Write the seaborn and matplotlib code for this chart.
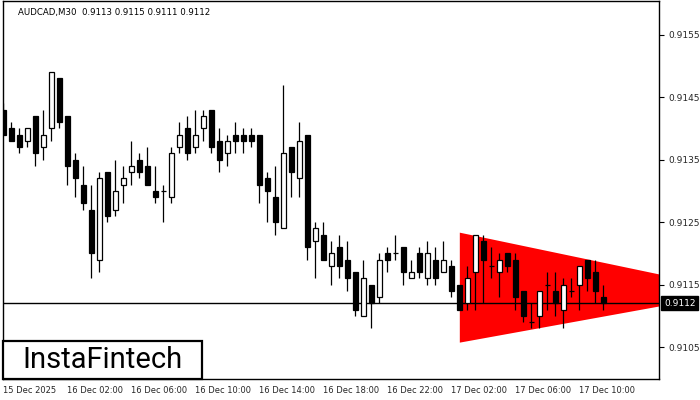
import pandas as pd
import matplotlib
matplotlib.use("Agg")
import matplotlib.pyplot as plt
import matplotlib.transforms as mtransforms
from matplotlib.patches import Rectangle
import seaborn as sns

# AUDCAD M30 candles
opens = [0.9143, 0.9140, 0.9139, 0.9138, 0.9142, 0.9137, 0.9140, 0.9148, 0.9142, 0.9135,
         0.9131, 0.9127, 0.9119, 0.9133, 0.9127, 0.9131, 0.9133, 0.9135, 0.9134, 0.9130,
         0.9130, 0.9129, 0.9137, 0.9140, 0.9137, 0.9140, 0.9143, 0.9138, 0.9136, 0.9139,
         0.9139, 0.9139, 0.9139, 0.9132, 0.9129, 0.9124, 0.9137, 0.9132, 0.9139, 0.9122,
         0.9123, 0.9118, 0.9121, 0.9119, 0.9117, 0.9110, 0.9115, 0.9113, 0.9120, 0.9120,
         0.9121, 0.9116, 0.9120, 0.9116, 0.9119, 0.9117, 0.9118, 0.9115, 0.9112, 0.9117,
         0.9122, 0.9118, 0.9117, 0.9120, 0.9119, 0.9114, 0.9109, 0.9110, 0.9115, 0.9114,
         0.9111, 0.9114, 0.9115, 0.9119, 0.9117, 0.9113]
highs = [0.9144, 0.9141, 0.9140, 0.9140, 0.9142, 0.9143, 0.9149, 0.9148, 0.9142, 0.9136,
         0.9134, 0.9131, 0.9133, 0.9133, 0.9135, 0.9134, 0.9138, 0.9136, 0.9137, 0.9134,
         0.9131, 0.9137, 0.9141, 0.9142, 0.9143, 0.9143, 0.9143, 0.9140, 0.9139, 0.9141,
         0.9140, 0.9140, 0.9139, 0.9133, 0.9134, 0.9147, 0.9137, 0.9141, 0.9139, 0.9125,
         0.9125, 0.9122, 0.9123, 0.9122, 0.9117, 0.9119, 0.9115, 0.9120, 0.9121, 0.9123,
         0.9121, 0.9119, 0.9121, 0.9122, 0.9121, 0.9122, 0.9119, 0.9115, 0.9118, 0.9123,
         0.9123, 0.9121, 0.9120, 0.9120, 0.9120, 0.9114, 0.9112, 0.9114, 0.9117, 0.9117,
         0.9116, 0.9116, 0.9118, 0.9119, 0.9119, 0.9115]
lows = [0.9139, 0.9138, 0.9136, 0.9137, 0.9134, 0.9135, 0.9138, 0.9140, 0.9131, 0.9129,
        0.9127, 0.9116, 0.9117, 0.9125, 0.9126, 0.9128, 0.9131, 0.9132, 0.9131, 0.9128,
        0.9125, 0.9128, 0.9136, 0.9135, 0.9136, 0.9138, 0.9136, 0.9133, 0.9134, 0.9136,
        0.9136, 0.9137, 0.9128, 0.9125, 0.9123, 0.9124, 0.9129, 0.9129, 0.9119, 0.9116,
        0.9119, 0.9115, 0.9116, 0.9114, 0.9110, 0.9110, 0.9108, 0.9112, 0.9117, 0.9119,
        0.9115, 0.9116, 0.9116, 0.9115, 0.9115, 0.9117, 0.9113, 0.9111, 0.9111, 0.9111,
        0.9112, 0.9116, 0.9113, 0.9117, 0.9111, 0.9109, 0.9108, 0.9108, 0.9111, 0.9110,
        0.9108, 0.9113, 0.9111, 0.9114, 0.9112, 0.9111]
closes = [0.9139, 0.9138, 0.9137, 0.9140, 0.9136, 0.9139, 0.9149, 0.9141, 0.9134, 0.9132,
          0.9128, 0.9120, 0.9132, 0.9126, 0.9130, 0.9132, 0.9134, 0.9133, 0.9131, 0.9129,
          0.9130, 0.9136, 0.9139, 0.9136, 0.9139, 0.9142, 0.9137, 0.9135, 0.9138, 0.9138,
          0.9138, 0.9138, 0.9131, 0.9130, 0.9125, 0.9136, 0.9133, 0.9138, 0.9121, 0.9124,
          0.9119, 0.9120, 0.9118, 0.9116, 0.9111, 0.9116, 0.9112, 0.9119, 0.9119, 0.9120,
          0.9117, 0.9117, 0.9117, 0.9120, 0.9116, 0.9119, 0.9114, 0.9111, 0.9116, 0.9123,
          0.9119, 0.9118, 0.9119, 0.9118, 0.9113, 0.9110, 0.9109, 0.9114, 0.9115, 0.9112,
          0.9115, 0.9114, 0.9118, 0.9116, 0.9114, 0.9112]

# bearish pennant (red triangle), in candle index / price
pennant_x = [57, 82]
pennant_top = [0.91234, 0.91167]
pennant_bot = [0.91058, 0.91116]

time_labels = ["15 Dec 2025", "16 Dec 02:00", "16 Dec 06:00", "16 Dec 10:00", "16 Dec 14:00",
               "16 Dec 18:00", "16 Dec 22:00", "17 Dec 02:00", "17 Dec 06:00", "17 Dec 10:00"]
price_ticks = [0.9105, 0.9115, 0.9125, 0.9135, 0.9145, 0.9155]
last_price = 0.9112

df = pd.DataFrame({"open": opens, "high": highs, "low": lows, "close": closes})
df["idx"] = range(len(df))

sns.set_style("white")
plt.rcParams["font.family"] = ["DejaVu Sans"]

fig = plt.figure(figsize=(7, 4), dpi=100)
ax = fig.add_axes([3 / 700, 21 / 400, 656 / 700, 378 / 400])

# red triangle behind the candles
ax.fill_between(pennant_x, pennant_bot, pennant_top, color="#ff0000", linewidth=0, zorder=1)

# current price line
ax.axhline(last_price, color="black", linewidth=1.0, zorder=2)

# wicks
ax.vlines(df["idx"], df["low"], df["high"], color="black", linewidth=0.9, zorder=3)

# bodies
bull = df["close"] >= df["open"]
body_bottom = df[["open", "close"]].min(axis=1)
body_height = (df["close"] - df["open"]).abs()
doji = body_height < 1e-7
solid = ~doji
ax.bar(df["idx"][solid], body_height[solid], bottom=body_bottom[solid], width=0.62,
       color=["white" if b else "black" for b in bull[solid]],
       edgecolor="black", linewidth=0.9, zorder=4)
ax.hlines(df["close"][doji], df["idx"][doji] - 0.31, df["idx"][doji] + 0.31,
          color="black", linewidth=0.9, zorder=4)

ax.set_xlim(-0.04, 81.96)
ax.set_ylim(0.90999, 0.91604)

# axes look like a trading terminal
for s in ax.spines.values():
    s.set_color("black")
    s.set_linewidth(1.0)
ax.yaxis.tick_right()
ax.set_yticks(price_ticks)
ax.set_yticklabels([f"{p:.4f}" for p in price_ticks])
ax.set_xticks(list(range(0, 80, 8)))
ax.set_xticklabels(time_labels, ha="left")
ax.tick_params(axis="both", direction="out", length=3.5, width=0.8, color="black",
               labelsize=6.3, pad=2)
ax.tick_params(axis="y", labelsize=6.5, pad=3)
ax.tick_params(axis="x", labelsize=6.0, pad=1.5)
for lab in ax.get_xticklabels():
    lab.set_horizontalalignment("left")
ax.set_xlabel("")
ax.set_ylabel("")

# last price tag on the right scale
trans = mtransforms.blended_transform_factory(ax.transAxes, ax.transData)
ax.text(1.0 + 5 / 656, last_price, f"{last_price:.4f}", transform=trans, ha="left",
        va="center", color="white", fontsize=6.5,
        bbox=dict(boxstyle="square,pad=0.28", fc="black", ec="black"), zorder=10)

# header
fig.text(18 / 700, 1 - 12 / 400, "AUDCAD,M30  0.9113 0.9115 0.9111 0.9112",
         fontsize=6.2, ha="left", va="center", color="black")

# logo box
fig.add_artist(Rectangle((3 / 700, 21 / 400), 199 / 700, 38 / 400, transform=fig.transFigure,
                         facecolor="white", edgecolor="black", linewidth=1.6, zorder=20))
fig.text(102 / 700, 1 - 360 / 400, "InstaFintech", fontsize=21, family="Roboto",
         ha="center", va="center", color="black", zorder=21)

fig.savefig("out.png", dpi=100)
